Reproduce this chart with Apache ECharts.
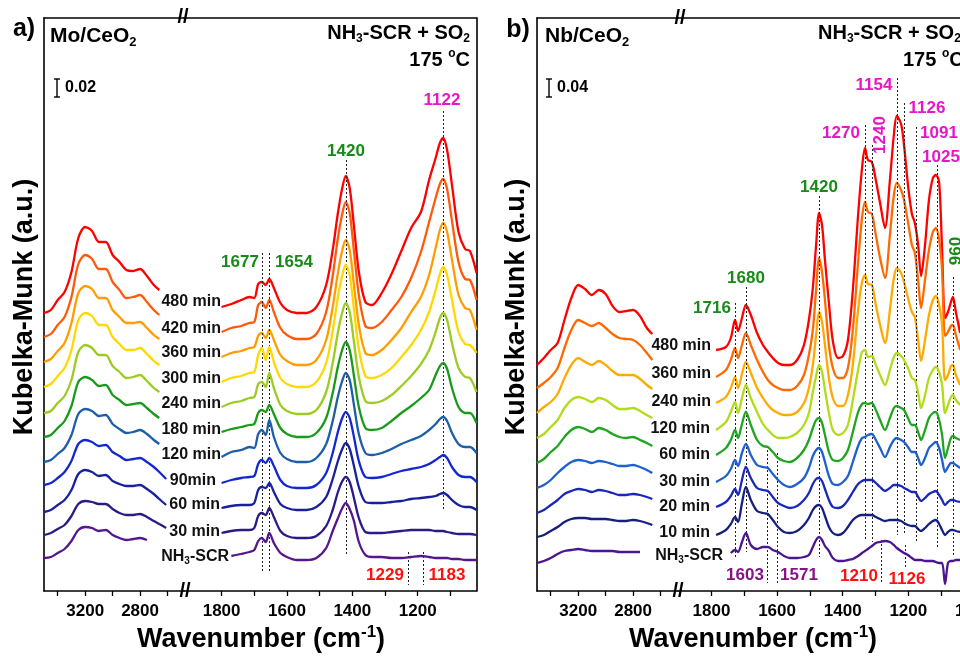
<!DOCTYPE html>
<html lang="en">
<head>
<meta charset="UTF-8">
<title>In situ DRIFTS, NH3-SCR + SO2</title>
<script src="https://cdn.jsdelivr.net/npm/echarts@6/dist/echarts.min.js"></script>
<style>
  html, body { margin: 0; padding: 0; background: #fff; }
  #main { width: 960px; height: 657px; }
</style>
</head>
<body>
<div id="main"></div>
<script>
// wavenumber grids (cm-1), high side and low side of the broken axis
var wnHigh = [3500, 3450, 3400, 3350, 3300, 3250, 3200, 3150, 3100, 3050, 3000, 2950, 2900, 2850, 2800, 2750, 2700, 2660, 2610];
var wnLowA = [1800, 1770, 1740, 1715, 1700, 1688, 1677, 1665, 1654, 1640, 1620, 1600, 1570, 1540, 1510, 1480, 1460, 1445, 1432, 1420,
              1408, 1395, 1380, 1360, 1340, 1310, 1280, 1250, 1220, 1190, 1165, 1145, 1132, 1122, 1110, 1095, 1075, 1055, 1040, 1020];
var wnLowB = [1786, 1756, 1741, 1728, 1719, 1707, 1695, 1680, 1661, 1643, 1628, 1613, 1597, 1579, 1561, 1539, 1518, 1503, 1491, 1481,
              1472, 1463, 1454, 1442, 1430, 1414, 1399, 1384, 1369, 1353, 1341, 1332, 1323, 1311, 1299, 1286, 1271, 1256, 1244, 1235,
              1222, 1213, 1201, 1189, 1180, 1170, 1161, 1149, 1137, 1125, 1116, 1106, 1097, 1088, 1079, 1070, 1064, 1055, 1042];

// a) Mo/CeO2  (Kubelka-Munk, stacked, arbitrary units)
var moNames = ['480 min', '420 min', '360 min', '300 min', '240 min', '180 min', '120 min', '90min', '60 min', '30 min', 'NH3-SCR'];
var moHigh480 = [278,281,291,299,319,353,364,360,349,349,336,329,321,320,322,315,306,301,null];
var moHigh420 = [254,257,266,274,294,327,336,332,322,322,309,301,293,294,296,289,281,276,null];
var moHigh360 = [229,232,240,248,268,298,305,302,293,293,281,274,268,268,269,263,256,252,null];
var moHigh300 = [204,207,215,223,241,271,278,275,266,266,254,247,241,241,243,237,230,226,null];
var moHigh240 = [178,180,188,195,211,239,246,243,236,236,225,219,213,214,216,210,203,199,null];
var moHigh180 = [154,156,163,170,185,209,214,211,205,206,196,191,186,187,188,183,177,173,null];
var moHigh120 = [129,131,137,143,156,177,182,180,175,176,167,162,158,159,161,157,151,147,null];
var moHigh90  = [106,108,113,119,130,147,151,149,145,146,139,135,131,132,133,129,124,119,112];
var moHigh60  = [79,81,86,91,101,117,121,119,115,116,110,107,105,105,106,102,97,92,86];
var moHigh30  = [56,58,62,66,75,87,90,89,87,87,82,78,76,76,77,74,70,67,63];
var moHighScr = [33,34,38,42,50,61,64,63,60,61,56,53,51,52,53,51,null,null,null];

var moLow480 = [284,287,291,294,293,307,309,306,312,303,288,281,278,278,284,306,341,376,401,415,403,365,319,289,286,298,317,340,363,379,411,433,448,453,441,406,359,342,340,318];
var moLow420 = [259,263,265,268,269,286,289,283,291,279,263,256,252,252,257,279,315,351,375,389,378,340,296,265,263,269,281,294,313,339,369,393,407,412,402,370,329,312,311,291];
var moLow360 = [234,238,240,243,244,255,258,253,261,251,236,230,226,226,231,251,284,316,339,351,341,306,266,238,236,241,251,263,279,294,316,343,361,368,359,331,296,283,281,261];
var moLow300 = [209,213,215,218,219,236,243,231,244,229,213,207,204,204,209,228,260,292,314,326,316,282,242,215,213,216,223,234,246,261,279,301,317,324,316,291,259,247,246,238];
var moLow240 = [184,188,190,193,194,207,209,204,218,203,186,180,177,177,181,199,228,257,277,288,279,249,214,190,188,190,196,205,215,227,241,259,273,278,271,248,223,214,213,199];
var moLow180 = [159,162,164,166,167,178,181,179,186,177,163,157,154,154,158,173,198,223,240,249,241,215,184,163,161,163,170,178,185,193,201,216,225,228,222,203,184,178,178,168];
var moLow120 = [134,139,141,144,143,157,161,156,171,154,138,132,129,129,133,147,170,193,209,218,211,186,157,138,136,138,142,147,151,155,161,167,172,174,170,158,147,144,144,138];
var moLow90  = [108,111,113,114,115,127,131,128,133,125,111,105,103,103,106,118,138,158,172,179,173,154,130,114,113,114,117,120,122,124,127,131,134,136,133,124,116,114,114,109];
var moLow60  = [83,85,86,86,88,101,104,103,108,99,87,83,81,81,84,94,112,129,141,148,142,125,104,89,88,88,89,90,92,93,94,95,97,98,96,91,86,84,84,81];
var moLow30  = [58,60,61,61,63,75,78,76,83,74,60,55,53,53,55,65,81,98,109,114,109,93,73,59,58,58,59,60,61,61,61,60,60,60,59,58,57,57,57,56];
var moLowScr = [null,35,37,39,41,50,53,49,58,48,38,34,31,31,33,43,60,72,82,88,82,70,49,36,34,34,33,33,34,35,34,33,33,33,33,32,32,31,31,31];

// b) Nb/CeO2
var nbNames = ['480 min', '360 min', '240 min', '120 min', '60 min', '30 min', '20 min', '10 min', 'NH3-SCR'];
var nbHigh480 = [226,233,241,248,271,293,306,302,296,301,297,285,279,280,281,275,263,257,null];
var nbHigh360 = [203,208,214,223,243,261,271,268,265,268,263,257,253,252,251,246,238,231,null];
var nbHigh240 = [178,184,189,197,213,226,233,229,226,230,226,220,216,216,216,212,206,202,null];
var nbHigh120 = [153,157,164,171,183,191,194,192,189,193,191,186,182,182,183,180,176,173,null];
var nbHigh60  = [128,132,139,145,154,161,164,162,159,163,161,157,154,153,154,151,148,145,null];
var nbHigh30  = [103,106,111,118,124,129,131,130,128,130,129,127,125,125,126,124,121,118,null];
var nbHigh20  = [78,81,86,91,97,100,102,101,99,101,100,98,96,96,97,96,94,92,null];
var nbHigh10  = [54,56,60,64,69,72,73,73,72,72,72,71,70,70,71,70,68,66,null];
var nbHighScr = [28,30,33,37,40,41,42,41,40,40,40,40,39,39,39,39,null,null,null];

var nbLow480 = [241,244,253,271,260,273,286,276,258,246,239,233,228,226,226,231,246,271,303,346,378,366,331,288,250,233,235,251,301,376,423,443,431,429,411,388,363,411,456,475,467,446,406,377,368,346,315,346,391,413,416,409,341,273,279,289,294,279,258];
var nbLow360 = [214,221,231,243,233,246,258,246,231,219,211,206,203,201,201,205,216,236,261,301,333,319,291,246,223,213,213,223,261,329,373,389,379,377,356,333,313,356,396,408,401,391,369,346,338,311,283,311,341,359,363,351,321,255,259,265,266,256,241];
var nbLow240 = [188,194,203,214,203,217,229,218,203,193,186,181,178,176,176,179,188,203,226,256,279,269,246,213,193,185,185,196,226,281,309,316,307,306,286,266,248,281,313,323,318,309,293,279,274,251,230,251,276,291,295,286,266,211,216,225,226,216,206];
var nbLow120 = [161,169,179,189,178,193,206,193,179,167,161,156,153,153,154,158,166,178,199,215,226,219,201,178,161,156,158,166,191,221,239,241,234,235,226,216,206,221,234,238,235,231,223,213,211,198,183,196,213,221,224,219,206,178,186,194,196,191,186];
var nbLow60  = [136,143,151,161,153,167,179,166,151,145,144,139,133,130,129,133,141,151,163,171,173,168,156,139,131,130,133,141,159,179,187,188,187,188,181,171,161,173,183,185,183,181,173,166,166,159,151,161,173,178,179,171,156,133,143,153,155,153,151];
var nbLow30  = [109,115,122,131,125,138,147,136,126,124,123,117,111,106,104,107,113,123,135,141,143,139,129,115,107,106,109,115,129,145,153,154,156,157,151,143,134,144,151,153,151,149,144,139,139,133,126,133,143,147,149,143,131,119,124,128,128,126,123];
var nbLow20  = [84,89,95,102,96,111,124,113,103,101,100,94,88,85,83,85,91,98,107,112,113,110,102,91,84,83,85,91,99,107,110,111,111,111,108,104,100,103,106,106,105,103,101,99,99,94,90,93,97,99,100,96,91,86,89,91,91,90,89];
var nbLow10  = [56,61,67,74,69,88,104,91,80,78,77,71,64,59,58,60,66,73,81,85,86,83,75,64,58,56,58,64,71,75,76,76,76,76,74,72,70,71,71,71,70,68,66,65,65,62,60,63,67,70,71,67,61,56,59,61,61,60,59];
var nbLowScr = [null,null,38,41,39,49,58,46,42,44,44,41,39,35,33,33,34,36,44,51,54,51,45,40,33,30,30,31,32,35,38,40,42,45,48,49,50,49,46,43,40,38,36,33,31,31,31,30,30,30,29,28,28,7,28,30,30,31,31];

// dotted guide lines: position and the vertical span they cover
var guideA    = [1677, 1654, 1420, 1122, 1229, 1183];
var guideATop = [338, 338, 431, 480, 39, 39];
var guideABot = [19, 19, 36, 81, 6, 6];
var guideB    = [1728, 1695, 1629, 1599, 1472, 1332, 1311, 1235, 1213, 1176, 1112, 1062, 1281, 1210];
var guideBTop = [288, 304, 145, 138, 395, 466, 446, 513, 488, 464, 426, 314, 51, 46];
var guideBBot = [34, 39, 8, 8, 34, 51, 49, 56, 56, 48, 44, 35, 8, 23];

var moColors = ['#ff0000', '#ff5a0a', '#ff9c00', '#ffd800', '#9ccc22', '#1a9a1a', '#1d5ea6', '#1428d2', '#18209c', '#2c1a86', '#56168c'];
var nbColors = ['#ff0000', '#ff6a00', '#ffaa00', '#b0dc1a', '#1fa51f', '#1f5fd0', '#1a28b8', '#15207c', '#4a1590'];

var fontFam = '"Liberation Sans", Arial, Helvetica, sans-serif';
var green = '#178a17', magenta = '#e816c8', red = '#ff1010', violet = '#861486';

var chart = echarts.init(document.getElementById('main'));

function pairs(wn, vals) {
    var out = [];
    for (var i = 0; i < wn.length; i++) {
        if (vals[i] != null) out.push([wn[i], vals[i]]);
    }
    return out;
}

function xAx(grid, min, max, pos, ticks, labels) {
    return {
        type: 'value', gridIndex: grid, position: pos, min: min, max: max, inverse: true,
        axisLine: { show: true, onZero: false, lineStyle: { color: '#000', width: 1.6 } },
        axisTick: { show: pos === 'bottom', length: 5, lineStyle: { color: '#000', width: 1.3 }, customValues: ticks },
        axisLabel: { show: pos === 'bottom', margin: 12, color: '#000', fontSize: 17, fontWeight: 'bold',
                     fontFamily: fontFam, customValues: labels, formatter: function (v) { return String(v); } },
        splitLine: { show: false }
    };
}
function yAx(grid, pos) {
    return {
        type: 'value', gridIndex: grid, position: pos, min: 0, max: 573,
        axisLine: { show: true, onZero: false, lineStyle: { color: '#000', width: 1.6 } },
        axisTick: { show: false }, axisLabel: { show: false }, splitLine: { show: false }
    };
}

var highTicks = [3400, 3200, 3000, 2800, 2600], highLabels = [3200, 2800];
var lowTicks = [1800, 1700, 1600, 1500, 1400, 1300, 1200, 1100], lowLabels = [1800, 1600, 1400, 1200];
var lowTicksB = [1800, 1700, 1600, 1500, 1400, 1300, 1200, 1100, 1000], lowLabelsB = [1800, 1600, 1400, 1200, 1000];

var series = [];
function addSpectra(grid, wn, list, colors) {
    for (var i = 0; i < list.length; i++) {
        series.push({
            type: 'line', xAxisIndex: grid * 2, yAxisIndex: grid,
            data: pairs(wn, list[i]), showSymbol: false, smooth: 0.3, silent: true,
            lineStyle: { color: colors[i], width: 2.3 }, itemStyle: { color: colors[i] }, z: 2 + i
        });
    }
}
addSpectra(0, wnHigh, [moHigh480, moHigh420, moHigh360, moHigh300, moHigh240, moHigh180, moHigh120, moHigh90, moHigh60, moHigh30, moHighScr], moColors);
addSpectra(1, wnLowA, [moLow480, moLow420, moLow360, moLow300, moLow240, moLow180, moLow120, moLow90, moLow60, moLow30, moLowScr], moColors);
addSpectra(2, wnHigh, [nbHigh480, nbHigh360, nbHigh240, nbHigh120, nbHigh60, nbHigh30, nbHigh20, nbHigh10, nbHighScr], nbColors);
addSpectra(3, wnLowB, [nbLow480, nbLow360, nbLow240, nbLow120, nbLow60, nbLow30, nbLow20, nbLow10, nbLowScr], nbColors);

function guideSeries(grid, pos, top, bot) {
    var d = [];
    for (var i = 0; i < pos.length; i++) d.push([{ coord: [pos[i], top[i]] }, { coord: [pos[i], bot[i]] }]);
    return {
        type: 'line', xAxisIndex: grid * 2, yAxisIndex: grid, data: [], silent: true,
        markLine: { symbol: 'none', silent: true, label: { show: false },
                    lineStyle: { color: '#222', width: 1, type: [2, 2] }, data: d }
    };
}
series.push(guideSeries(1, guideA, guideATop, guideABot));
series.push(guideSeries(3, guideB, guideBTop, guideBBot));

// text helpers for the annotations drawn on top
function txt(x, y, text, size, color, align, extra) {
    var c = color || '#000';
    var el = {
        type: 'text', x: x, y: y, z: 100, silent: true,
        style: { text: text, fill: c, fontSize: size, fontWeight: 'bold', fontFamily: fontFam,
                 align: align || 'center', verticalAlign: 'middle',
                 rich: { n: { fontSize: size, fontWeight: 'bold', fontFamily: fontFam, fill: c },
                         s: { fontSize: Math.round(size * 0.62), fontWeight: 'bold', fontFamily: fontFam, fill: c, padding: [Math.round(size * 0.55), 0, 0, 0] },
                         u: { fontSize: Math.round(size * 0.62), fontWeight: 'bold', fontFamily: fontFam, fill: c, padding: [0, 0, Math.round(size * 0.6), 0] } } }
    };
    if (extra) for (var k in extra) el[k] = extra[k];
    return el;
}
function scaleBar(x, y0, y1) {
    return [
        { type: 'line', z: 100, shape: { x1: x, y1: y0, x2: x, y2: y1 }, style: { stroke: '#000', lineWidth: 1.4 } },
        { type: 'line', z: 100, shape: { x1: x - 3, y1: y0, x2: x + 3, y2: y0 }, style: { stroke: '#000', lineWidth: 1.4 } },
        { type: 'line', z: 100, shape: { x1: x - 3, y1: y1, x2: x + 3, y2: y1 }, style: { stroke: '#000', lineWidth: 1.4 } }
    ];
}
function nameText(t) { return t === 'NH3-SCR' ? '{n|NH}{s|3}{n|-SCR}' : t; }

var moLabelY = [302, 329, 353, 379, 404, 430, 455, 481, 505, 532, 557];
var moLabelX = [221, 221, 221, 221, 221, 221, 221, 216, 220, 220, 229];
var nbLabelY = [346, 374, 402, 429, 455, 482, 507, 533, 556];
var nbLabelX = [711, 711, 711, 710, 710, 710, 710, 710, 723];

var graphic = [];
graphic.push(txt(24, 29, 'a)', 25));
graphic.push(txt(518, 30, 'b)', 25));
graphic.push(txt(50, 36, '{n|Mo/CeO}{s|2}', 21, '#000', 'left'));
graphic.push(txt(545, 36, '{n|Nb/CeO}{s|2}', 21, '#000', 'left'));
graphic.push(txt(470, 33, '{n|NH}{s|3}{n|-SCR + SO}{s|2}', 20, '#000', 'right'));
graphic.push(txt(470, 60, '{n|175 }{u|o}{n|C}', 20, '#000', 'right'));
graphic.push(txt(818, 33, '{n|NH}{s|3}{n|-SCR + SO}{s|2}', 20, '#000', 'left'));
graphic.push(txt(903, 60, '{n|175 }{u|o}{n|C}', 20, '#000', 'left'));
graphic = graphic.concat(scaleBar(57, 79, 97), scaleBar(549, 79, 97));
graphic.push(txt(65, 88, '0.02', 16, '#000', 'left'));
graphic.push(txt(557, 88, '0.04', 16, '#000', 'left'));

for (var i = 0; i < moNames.length; i++) graphic.push(txt(moLabelX[i], moLabelY[i], nameText(moNames[i]), 16, '#111', 'right'));
for (var j = 0; j < nbNames.length; j++) graphic.push(txt(nbLabelX[j], nbLabelY[j], nameText(nbNames[j]), 16, '#111', 'right'));

// peak labels, panel a
graphic.push(txt(240, 262, '1677', 17, green));
graphic.push(txt(294, 262, '1654', 17, green));
graphic.push(txt(346, 151, '1420', 17, green));
graphic.push(txt(442, 100, '1122', 17, magenta));
graphic.push(txt(385, 575, '1229', 17, red));
graphic.push(txt(447, 575, '1183', 17, red));
// peak labels, panel b
graphic.push(txt(712, 308, '1716', 17, green));
graphic.push(txt(746, 278, '1680', 17, green));
graphic.push(txt(819, 187, '1420', 17, green));
graphic.push(txt(841, 133, '1270', 17, magenta));
graphic.push(txt(880, 135, '1240', 17, magenta, 'center', { rotation: Math.PI / 2 }));
graphic.push(txt(874, 85, '1154', 17, magenta));
graphic.push(txt(927, 108, '1126', 17, magenta));
graphic.push(txt(939, 133, '1091', 17, magenta));
graphic.push(txt(941, 157, '1025', 17, magenta));
graphic.push(txt(956, 251, '960', 17, green, 'center', { rotation: Math.PI / 2 }));
graphic.push(txt(745, 575, '1603', 17, violet));
graphic.push(txt(799, 575, '1571', 17, violet));
graphic.push(txt(859, 576, '1210', 17, red));
graphic.push(txt(907, 579, '1126', 17, red));

// axis titles and break marks
var wTitle = '{n|Wavenumber (cm}{u|-1}{n|)}';
graphic.push(txt(261, 640, wTitle, 27));
graphic.push(txt(753, 640, wTitle, 27));
graphic.push(txt(25, 307, 'Kubelka-Munk (a.u.)', 27, '#000', 'center', { rotation: Math.PI / 2 }));
graphic.push(txt(517, 307, 'Kubelka-Munk (a.u.)', 27, '#000', 'center', { rotation: Math.PI / 2 }));
graphic.push(txt(185, 591, '//', 20));
graphic.push(txt(183, 17, '//', 20));
graphic.push(txt(678, 591, '//', 20));
graphic.push(txt(680, 18, '//', 20));

var option = {
    animation: false,
    backgroundColor: '#fff',
    grid: [
        { left: 44, top: 18, width: 140, height: 573, outerBoundsMode: 'none' },
        { left: 184, top: 18, width: 292.5, height: 573, outerBoundsMode: 'none' },
        { left: 537, top: 18, width: 141, height: 573, outerBoundsMode: 'none' },
        { left: 678, top: 18, width: 295.9, height: 573, outerBoundsMode: 'none' }
    ],
    xAxis: [
        xAx(0, 2480, 3500, 'bottom', highTicks, highLabels), xAx(0, 2480, 3500, 'top'),
        xAx(1, 1020, 1915, 'bottom', lowTicks, lowLabels), xAx(1, 1020, 1915, 'top'),
        xAx(2, 2473, 3500, 'bottom', highTicks, highLabels), xAx(2, 2473, 3500, 'top'),
        xAx(3, 1000, 1902, 'bottom', lowTicksB, lowLabelsB), xAx(3, 1000, 1902, 'top')
    ],
    yAxis: [yAx(0, 'left'), yAx(1, 'right'), yAx(2, 'left'), yAx(3, 'right')],
    series: series,
    graphic: graphic
};
chart.setOption(option);
</script>
</body>
</html>
